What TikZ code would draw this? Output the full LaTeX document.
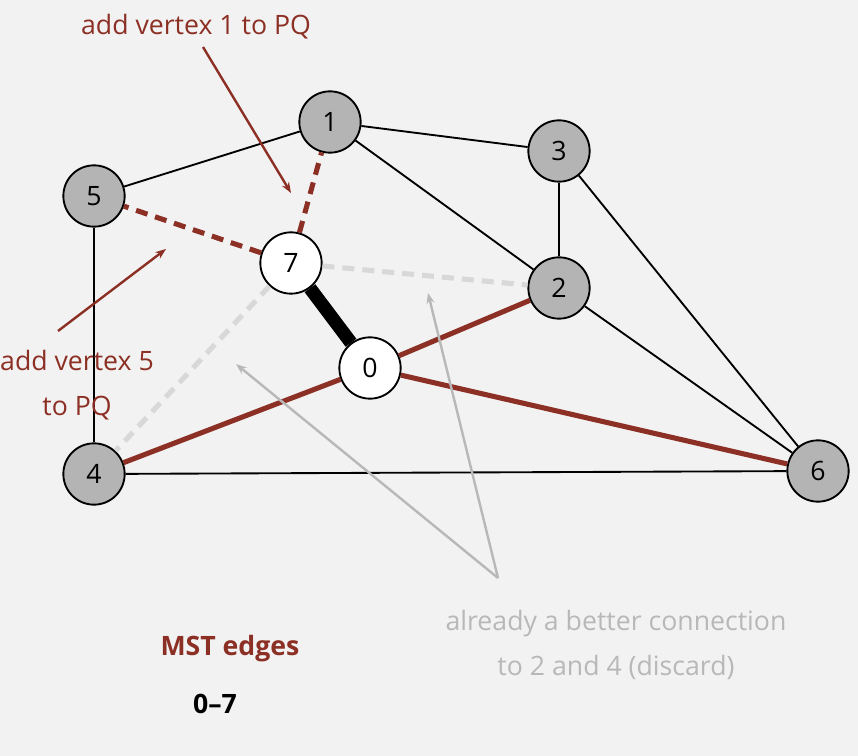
\documentclass[tikz,border=0pt]{standalone}
\usepackage{fontspec}
\setmainfont{Open Sans}
\usepackage{tikz}
\usetikzlibrary{arrows.meta}
\definecolor{bgcol}{RGB}{242,242,242}
\definecolor{treecol}{RGB}{140,47,36}
\definecolor{vtxcol}{RGB}{180,180,180}
\definecolor{skipcol}{RGB}{216,216,216}
\definecolor{notecol}{RGB}{184,184,184}

\begin{document}
\begin{tikzpicture}[
    x=0.75pt, y=-0.75pt,
    vtx/.style={circle, draw, line width=1.4pt, fill=vtxcol, minimum size=46pt, inner sep=0pt, font=\fontsize{20}{24}\selectfont},
    done/.style={vtx, fill=white},
    edge/.style={line width=1.4pt},
    cross/.style={line width=3.8pt, treecol},
    pq/.style={line width=3.8pt, treecol, dash pattern=on 9pt off 6pt},
    skip/.style={line width=3.8pt, skipcol, dash pattern=on 9pt off 6pt},
    note/.style={font=\fontsize{20}{26}\selectfont},
    arrow/.style={-{Stealth[length=8pt,width=6pt]}, line width=1.8pt}
]
    % Background
    \fill[bgcol] (0,0) rectangle (858,756);
    \useasboundingbox (0,0) rectangle (858,756);

    % Vertices
    \node[done] (v0) at (370,368) {0};
    \node[vtx]  (v1) at (330,122) {1};
    \node[vtx]  (v2) at (559,288) {2};
    \node[vtx]  (v3) at (559,151) {3};
    \node[vtx]  (v4) at (94,474) {4};
    \node[vtx]  (v5) at (94,196) {5};
    \node[vtx]  (v6) at (818,471) {6};
    \node[done] (v7) at (291,263) {7};

    % Graph edges
    \draw[edge] (v5) -- (v1);
    \draw[edge] (v1) -- (v3);
    \draw[edge] (v1) -- (v2);
    \draw[edge] (v3) -- (v2);
    \draw[edge] (v3) -- (v6);
    \draw[edge] (v2) -- (v6);
    \draw[edge] (v5) -- (v4);
    \draw[edge] (v4) -- (v6);

    % Crossing edges in PQ
    \draw[cross] (v0) -- (v2);
    \draw[cross] (v0) -- (v4);
    \draw[cross] (v0) -- (v6);

    % Edges just added to PQ
    \draw[pq] (v7) -- (v5);
    \draw[pq] (v7) -- (v1);

    % Discarded edges
    \draw[skip] (v7) -- (v2);
    \draw[skip] (v7) -- (v4);

    % Tree edge
    \draw[line width=10pt] (v0) -- (v7);

    % Annotations
    \node[note, text=treecol] (add1) at (196,27) {add vertex 1 to PQ};
    \coordinate (add1tip) at (291,193);
    \draw[arrow, treecol] (203,47) -- (add1tip);

    \node[note, text=treecol, align=center] (add5) at (77,385) {add vertex 5\\[8pt]to PQ};
    \coordinate (add5tip) at (166,249);
    \draw[arrow, treecol] (58,331) -- (add5tip);

    \coordinate (hub) at (498,578);
    \coordinate (tip4) at (236,364);
    \coordinate (tip2) at (428,293);
    \draw[arrow, notecol] (hub) -- (tip4);
    \draw[arrow, notecol] (hub) -- (tip2);
    \node[note, text=notecol, align=center] (why) at (616,645) {already a better connection\\[8pt]to 2 and 4 (discard)};

    % MST so far
    \node[note, text=treecol, font=\fontsize{20}{26}\selectfont\bfseries] (mst) at (230,649) {MST edges};
    \node[note, font=\fontsize{20}{26}\selectfont\bfseries] (e07) at (215,704) {0--7};
\end{tikzpicture}
\end{document}
